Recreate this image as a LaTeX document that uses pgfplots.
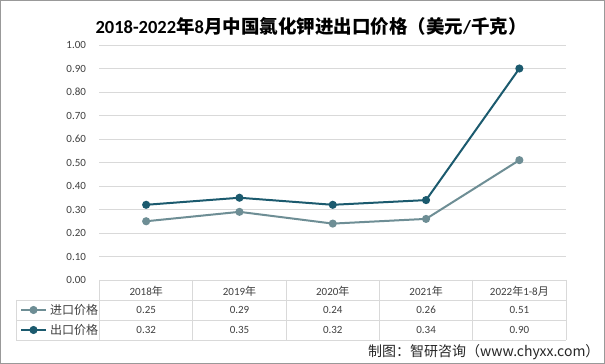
\documentclass[border=0pt]{standalone}
\usepackage{pgfplots}
\pgfplotsset{compat=1.18}
\usepackage{fontspec}
\setmainfont{Carlito}
\newfontfamily\cjk{Noto Sans CJK SC}
\newfontfamily\cjkb{Noto Sans CJK SC Bold}
\definecolor{imp}{HTML}{6E8E95}
\definecolor{exp}{HTML}{1B5A6E}
\definecolor{gridc}{HTML}{D9D9D9}
\definecolor{txt}{HTML}{404040}
\begin{document}
\begin{tikzpicture}[x=1pt,y=1pt]
\fill[white] (0,0) rectangle (605,364);
\draw[color=black!40, line width=1.2pt] (0.6,0.6) rectangle (604.4,363.4);
\node[font=\fontsize{18.5}{22}\selectfont\bfseries, text=black] at (311,338) {2018-2022{\cjkb 年}8{\cjkb 月中国氯化钾进出口价格（美元}/{\cjkb 千克）}};
\begin{axis}[at={(99.5pt,84pt)}, anchor=south west, scale only axis,
  width=466.5pt, height=235pt,
  xmin=-0.5, xmax=4.5, ymin=0, ymax=1,
  axis line style={draw=none},
  xtick=\empty,
  ytick={0,0.1,0.2,0.3,0.4,0.5,0.6,0.7,0.8,0.9,1.0},
  yticklabel style={font=\fontsize{11}{13}\selectfont, text=txt, xshift=-10pt},
  /pgf/number format/assume math mode=true,
  yticklabel={\pgfmathprintnumber[fixed,fixed zerofill,precision=2]{\tick}},
  major tick length=0pt,
  ymajorgrids, grid style={gridc, line width=0.8pt},
  clip=false,
  legend style={at={(axis description cs:-0.1704,-0.0851)}, anchor=north west,
    draw=none, fill=none, inner sep=0pt, outer sep=0pt, row sep=0pt,
    font=\cjk\fontsize{12}{14}\selectfont, text=txt,
    nodes={inner sep=0pt, minimum height=20pt}, column sep=3pt},
  legend cell align=left,
  legend image code/.code={\draw[#1, mark repeat=2, mark phase=2] plot coordinates {(0pt,0pt)(12.5pt,0pt)(25pt,0pt)};},
]
\addplot[imp, line width=2pt, mark=*, mark size=3pt, mark options={fill=imp, draw=imp}]
  coordinates {(0,0.25)(1,0.29)(2,0.24)(3,0.26)(4,0.51)};
\addplot[exp, line width=2pt, mark=*, mark size=3pt, mark options={fill=exp, draw=exp}]
  coordinates {(0,0.32)(1,0.35)(2,0.32)(3,0.34)(4,0.90)};
\legend{进口价格,出口价格}
\end{axis}
% data table grid
\draw[gridc, line width=0.8pt] (16,64)--(566,64) (16,44)--(566,44) (16,24)--(566,24) (16,64)--(16,24);
\foreach \xx in {99.5,192.8,286.1,379.4,472.7,566} {\draw[gridc, line width=0.8pt] (\xx,84)--(\xx,24);}
\begin{scope}[every node/.style={font=\fontsize{11}{13}\selectfont, text=txt}]
\node at (146.2,73) {2018{\cjk 年}};
\node at (239.5,73) {2019{\cjk 年}};
\node at (332.8,73) {2020{\cjk 年}};
\node at (426.1,73) {2021{\cjk 年}};
\node at (519.4,73) {2022{\cjk 年}1-8{\cjk 月}};
\node at (146.2,54) {0.25};
\node at (239.5,54) {0.29};
\node at (332.8,54) {0.24};
\node at (426.1,54) {0.26};
\node at (519.4,54) {0.51};
\node at (146.2,34) {0.32};
\node at (239.5,34) {0.35};
\node at (332.8,34) {0.32};
\node at (426.1,34) {0.34};
\node at (519.4,34) {0.90};
\end{scope}
\node[anchor=east, font=\cjk\fontsize{14}{16}\selectfont, text=black!85] at (603,12) {制图：智研咨询（www.chyxx.com）};
\end{tikzpicture}
\end{document}
